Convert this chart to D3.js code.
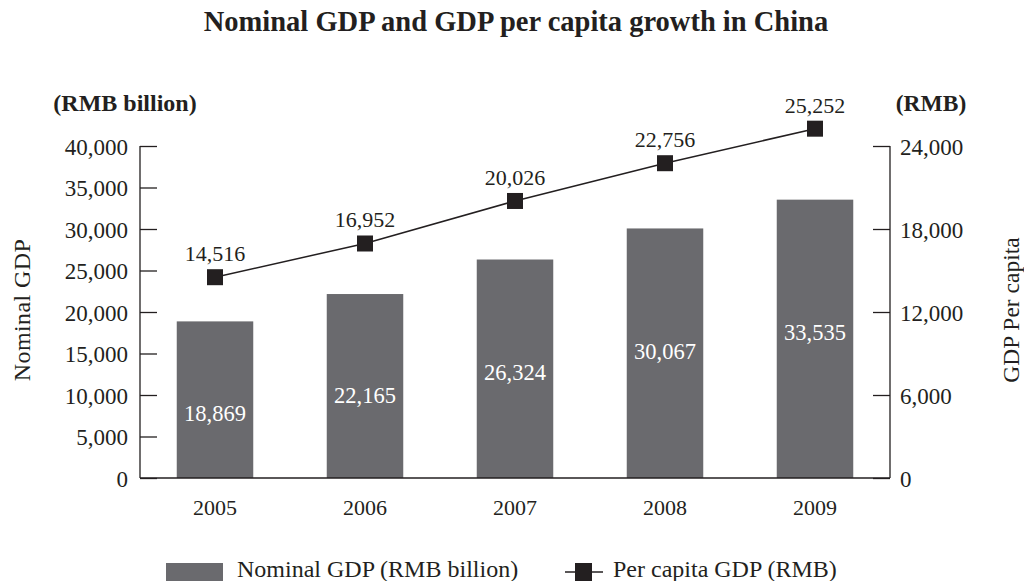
<!DOCTYPE html>
<html>
<head>
<meta charset="utf-8">
<script src="https://cdn.jsdelivr.net/npm/d3@7"></script>
<style>
  html, body { margin: 0; padding: 0; background: #fff; }
  svg { display: block; }
  text { font-family: "Liberation Serif", "Times New Roman", serif; fill: #231f20; }
</style>
</head>
<body>
<svg id="chart" width="1024" height="581"></svg>
<script>
// Nominal GDP (RMB billion) and GDP per capita (RMB), China 2005-2009
const years = ["2005", "2006", "2007", "2008", "2009"];
const nominalGdp = [18869, 22165, 26324, 30067, 33535];
const perCapitaGdp = [14516, 16952, 20026, 22756, 25252];
const leftTicks = [0, 5000, 10000, 15000, 20000, 25000, 30000, 35000, 40000];
const rightTicks = [0, 6000, 12000, 18000, 24000];

const svg = d3.select("#chart");
const fmt = d3.format(",");
const ink = "#231f20";
const barFill = "#6a6a6e";

const plot = { left: 140, right: 890, top: 146, bottom: 478 };

const x = d3.scaleBand().domain(years).range([plot.left, plot.right])
  .paddingInner(0.49).paddingOuter(0.245);
const yL = d3.scaleLinear().domain([0, 40000]).range([plot.bottom, plot.top]);
const yR = d3.scaleLinear().domain([0, 24000]).range([plot.bottom, plot.top]);

// Title
svg.append("text")
  .attr("x", 516).attr("y", 31)
  .attr("text-anchor", "middle")
  .style("font-size", "28.5px").style("font-weight", "bold")
  .text("Nominal GDP and GDP per capita growth in China");

// Bars
svg.append("g").selectAll("rect")
  .data(nominalGdp)
  .join("rect")
  .attr("x", (d, i) => x(years[i]))
  .attr("y", d => yL(d))
  .attr("width", x.bandwidth())
  .attr("height", d => plot.bottom - yL(d))
  .attr("fill", barFill);

// Bar value labels
svg.append("g").selectAll("text")
  .data(nominalGdp)
  .join("text")
  .attr("x", (d, i) => x(years[i]) + x.bandwidth() / 2)
  .attr("y", d => plot.bottom - 0.665 * (plot.bottom - yL(d)) + 39 + 8)
  .attr("text-anchor", "middle")
  .style("font-size", "22.5px")
  .style("fill", "#fff")
  .text(d => fmt(d));

// Left axis
const leftAxis = d3.axisRight(yL).tickValues(leftTicks).tickSize(17).tickFormat(fmt);
const gL = svg.append("g").attr("transform", `translate(${plot.left},0)`).call(leftAxis);
gL.select(".domain").remove();
gL.selectAll(".tick line").attr("stroke", ink).attr("stroke-width", 1.3);
gL.selectAll(".tick text")
  .attr("x", -12).attr("dy", "0.35em").attr("text-anchor", "end")
  .style("font-size", "23px").style("font-family", "Liberation Serif").attr("fill", ink);
svg.append("line")
  .attr("x1", plot.left).attr("x2", plot.left)
  .attr("y1", plot.top).attr("y2", plot.bottom)
  .attr("stroke", ink).attr("stroke-width", 1.3);

// Right axis
const rightAxis = d3.axisLeft(yR).tickValues(rightTicks).tickSize(17).tickFormat(fmt);
const gR = svg.append("g").attr("transform", `translate(${plot.right},0)`).call(rightAxis);
gR.select(".domain").remove();
gR.selectAll(".tick line").attr("stroke", ink).attr("stroke-width", 1.3);
gR.selectAll(".tick text")
  .attr("x", 10).attr("dy", "0.35em").attr("text-anchor", "start")
  .style("font-size", "23px").style("font-family", "Liberation Serif").attr("fill", ink);
svg.append("line")
  .attr("x1", plot.right).attr("x2", plot.right)
  .attr("y1", plot.top).attr("y2", plot.bottom)
  .attr("stroke", ink).attr("stroke-width", 1.3);

// Bottom axis
const xAxis = d3.axisBottom(x).tickSize(0).tickPadding(21);
const gX = svg.append("g").attr("transform", `translate(0,${plot.bottom})`).call(xAxis);
gX.select(".domain").remove();
gX.selectAll(".tick text")
  .style("font-size", "22px").style("font-family", "Liberation Serif").attr("fill", ink);
svg.append("line")
  .attr("x1", plot.left).attr("x2", plot.right)
  .attr("y1", plot.bottom).attr("y2", plot.bottom)
  .attr("stroke", ink).attr("stroke-width", 1.5);

// Unit labels
svg.append("text").attr("x", 125).attr("y", 111).attr("text-anchor", "middle")
  .style("font-size", "24px").style("font-weight", "bold").text("(RMB billion)");
svg.append("text").attr("x", 931).attr("y", 111).attr("text-anchor", "middle")
  .style("font-size", "23.5px").style("font-weight", "bold").text("(RMB)");

// Axis titles
svg.append("text")
  .attr("transform", "translate(30,310) rotate(-90)")
  .attr("text-anchor", "middle").style("font-size", "24px")
  .style("letter-spacing", "0.4px")
  .text("Nominal GDP");
svg.append("text")
  .attr("transform", "translate(1019,310) rotate(-90)")
  .attr("text-anchor", "middle").style("font-size", "23.5px")
  .text("GDP Per capita");

// Per capita line
const cx = (d, i) => x(years[i]) + x.bandwidth() / 2;
const line = d3.line().x(cx).y(d => yR(d));
svg.append("path")
  .datum(perCapitaGdp)
  .attr("d", line)
  .attr("fill", "none")
  .attr("stroke", ink)
  .attr("stroke-width", 1.5);

const sq = 16;
svg.append("g").selectAll("rect")
  .data(perCapitaGdp)
  .join("rect")
  .attr("x", (d, i) => cx(d, i) - sq / 2)
  .attr("y", d => yR(d) - sq / 2)
  .attr("width", sq).attr("height", sq)
  .attr("fill", ink);

svg.append("g").selectAll("text")
  .data(perCapitaGdp)
  .join("text")
  .attr("x", cx)
  .attr("y", d => yR(d) - 16)
  .attr("text-anchor", "middle")
  .style("font-size", "22px")
  .text(d => fmt(d));

// Legend
const legend = svg.append("g");
legend.append("rect")
  .attr("x", 166).attr("y", 563).attr("width", 57).attr("height", 18)
  .attr("fill", barFill);
legend.append("text").attr("x", 237).attr("y", 577)
  .style("font-size", "24px").text("Nominal GDP (RMB billion)");
legend.append("line")
  .attr("x1", 565).attr("x2", 603).attr("y1", 572).attr("y2", 572)
  .attr("stroke", ink).attr("stroke-width", 1.5);
legend.append("rect")
  .attr("x", 575).attr("y", 563).attr("width", 17).attr("height", 18)
  .attr("fill", ink);
legend.append("text").attr("x", 613).attr("y", 577)
  .style("font-size", "24px").text("Per capita GDP (RMB)");
</script>
</body>
</html>
